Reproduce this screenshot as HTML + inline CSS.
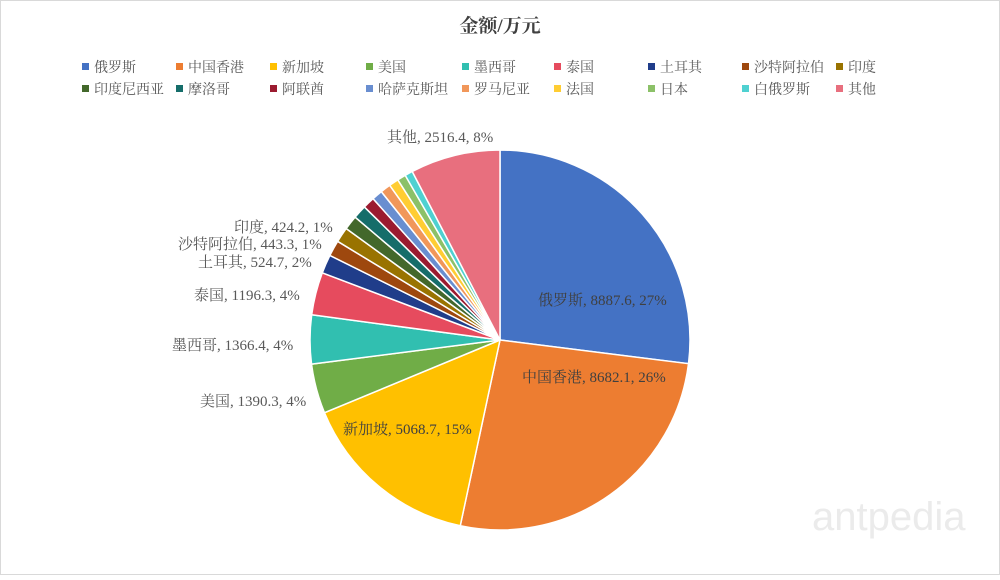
<!DOCTYPE html><html><head><meta charset="utf-8"><style>
body{margin:0;background:#fff}
svg text{font-family:"Liberation Serif","Noto Serif CJK SC",serif;fill:#595959}
</style></head><body>
<svg id="s" width="1000" height="575" xmlns="http://www.w3.org/2000/svg">
<rect x="0.5" y="0.5" width="999" height="574" fill="#fff" stroke="#d9d9d9"/>
<text x="500" y="32" text-anchor="middle" font-size="19" font-weight="bold" style="fill:#404040">金额/万元</text>
<g id="leg" font-size="14"></g>
<g id="pie"></g>
<g font-size="15">
<text x="387" y="142">其他, 2516.4, 8%</text>
<text x="538" y="305" style="fill:#404040">俄罗斯, 8887.6, 27%</text>
<text x="522" y="382" style="fill:#404040">中国香港, 8682.1, 26%</text>
<text x="343" y="434" style="fill:#404040">新加坡, 5068.7, 15%</text>
<text x="200" y="406">美国, 1390.3, 4%</text>
<text x="172" y="350">墨西哥, 1366.4, 4%</text>
<text x="194" y="300">泰国, 1196.3, 4%</text>
<text x="198" y="267">土耳其, 524.7, 2%</text>
<text x="178" y="249">沙特阿拉伯, 443.3, 1%</text>
<text x="234" y="232">印度, 424.2, 1%</text>
</g>
<text x="812" y="530" font-size="40" style="fill:#ebebeb;font-family:'Liberation Sans',sans-serif">antpedia</text>
</svg>
<script>
var d=[["俄罗斯",8887.6,"#4472c4"],["中国香港",8682.1,"#ed7d31"],["新加坡",5068.7,"#ffc000"],["美国",1390.3,"#70ad47"],["墨西哥",1366.4,"#31bfb0"],["泰国",1196.3,"#e64b5e"],["土耳其",524.7,"#203d8a"],["沙特阿拉伯",443.3,"#9e480e"],["印度",424.2,"#997300"],["印度尼西亚",400,"#43682b"],["摩洛哥",380,"#156d6a"],["阿联酋",330,"#9b1b30"],["哈萨克斯坦",300,"#698ed0"],["罗马尼亚",290,"#f1975a"],["法国",270,"#ffcd33"],["日本",240,"#8cc168"],["白俄罗斯",220,"#4fd1d1"],["其他",2516.4,"#e86f7e"]];
var tot=0;d.forEach(e=>tot+=e[1]);
var cx=500,cy=340,r=190,a=-Math.PI/2,p=document.getElementById("pie"),h="";
d.forEach(e=>{var b=a+e[1]/tot*2*Math.PI;var x1=cx+r*Math.cos(a),y1=cy+r*Math.sin(a),x2=cx+r*Math.cos(b),y2=cy+r*Math.sin(b);
h+='<path d="M'+cx+','+cy+'L'+x1+','+y1+'A'+r+','+r+' 0 '+(b-a>Math.PI?1:0)+' 1 '+x2+','+y2+'Z" fill="'+e[2]+'" stroke="#fff" stroke-width="1.5"/>';a=b;});
p.innerHTML=h;
var xs=[82,176,270,366,462,554,648,742,836],l="";
d.forEach((e,i)=>{var x=xs[i%9],y=i<9?67:89;l+='<rect x="'+x+'" y="'+(y-4)+'" width="7" height="7" fill="'+e[2]+'"/><text x="'+(x+12)+'" y="'+(y+5)+'">'+e[0]+'</text>';});
document.getElementById("leg").innerHTML=l;
</script>
</body></html>
